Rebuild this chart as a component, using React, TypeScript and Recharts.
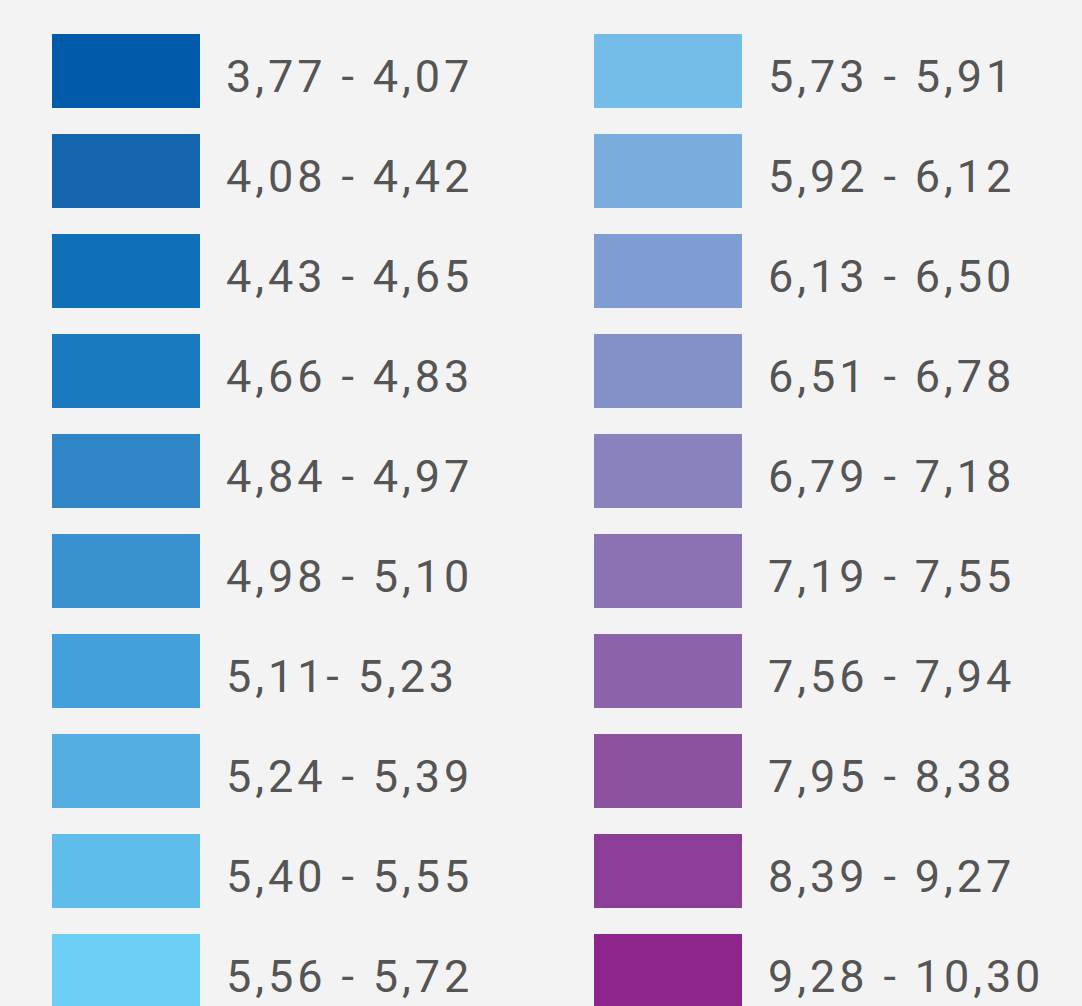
import React from 'react';
import { BarChart, Bar, XAxis, YAxis, Cell } from 'recharts';

// legend bins of the colour scale, two columns of ten
const leftRanges = ['3,77 - 4,07', '4,08 - 4,42', '4,43 - 4,65', '4,66 - 4,83', '4,84 - 4,97', '4,98 - 5,10', '5,11- 5,23', '5,24 - 5,39', '5,40 - 5,55', '5,56 - 5,72'];
const leftColors = ['#015aaa', '#1464ae', '#0f6fb7', '#1b7abf', '#2f85c6', '#3a91d0', '#44a0da', '#54aee1', '#5fbdeb', '#6dcff5'];
const rightRanges = ['5,73 - 5,91', '5,92 - 6,12', '6,13 - 6,50', '6,51 - 6,78', '6,79 - 7,18', '7,19 - 7,55', '7,56 - 7,94', '7,95 - 8,38', '8,39 - 9,27', '9,28 - 10,30'];
const rightColors = ['#73bde8', '#7aadde', '#7f9dd2', '#8490c8', '#8882bd', '#8a72b3', '#8c62aa', '#8c52a0', '#8c3d96', '#8e258d'];
// each swatch fills its row
const swatch = 1;

const RangeTick = (props: any) => {
  const { x, y, payload } = props;
  return (
    <text x={x} y={y} dy={21} textAnchor="start" fill="#555555" fontSize={45}
      fontFamily="Roboto" style={{ letterSpacing: '3.9px' }}>
      {payload.value}
    </text>
  );
};

const Column = ({ ranges, colors, left }: { ranges: string[]; colors: string[]; left: number }) => {
  const data = ranges.map((r) => ({ range: r, v: swatch }));
  return (
    <BarChart width={541} height={1021} data={data} layout="vertical"
      margin={{ top: 21, right: 0, bottom: 0, left }}>
      <XAxis type="number" domain={[0, 1]} hide />
      <YAxis type="category" dataKey="range" orientation="right" width={541 - left - 148}
        axisLine={false} tickLine={false} tickSize={0} tickMargin={26} tick={<RangeTick />} interval={0} />
      <Bar dataKey="v" barSize={74} isAnimationActive={false}>
        {data.map((d, i) => (
          <Cell key={d.range} fill={colors[i]} />
        ))}
      </Bar>
    </BarChart>
  );
};

export default function App() {
  return (
    <div style={{ position: 'absolute', left: 0, top: 0, width: 1082, height: 1006, overflow: 'hidden', background: '#f3f3f3', display: 'flex' }}>
      <Column ranges={leftRanges} colors={leftColors} left={52} />
      <Column ranges={rightRanges} colors={rightColors} left={53} />
    </div>
  );
}
